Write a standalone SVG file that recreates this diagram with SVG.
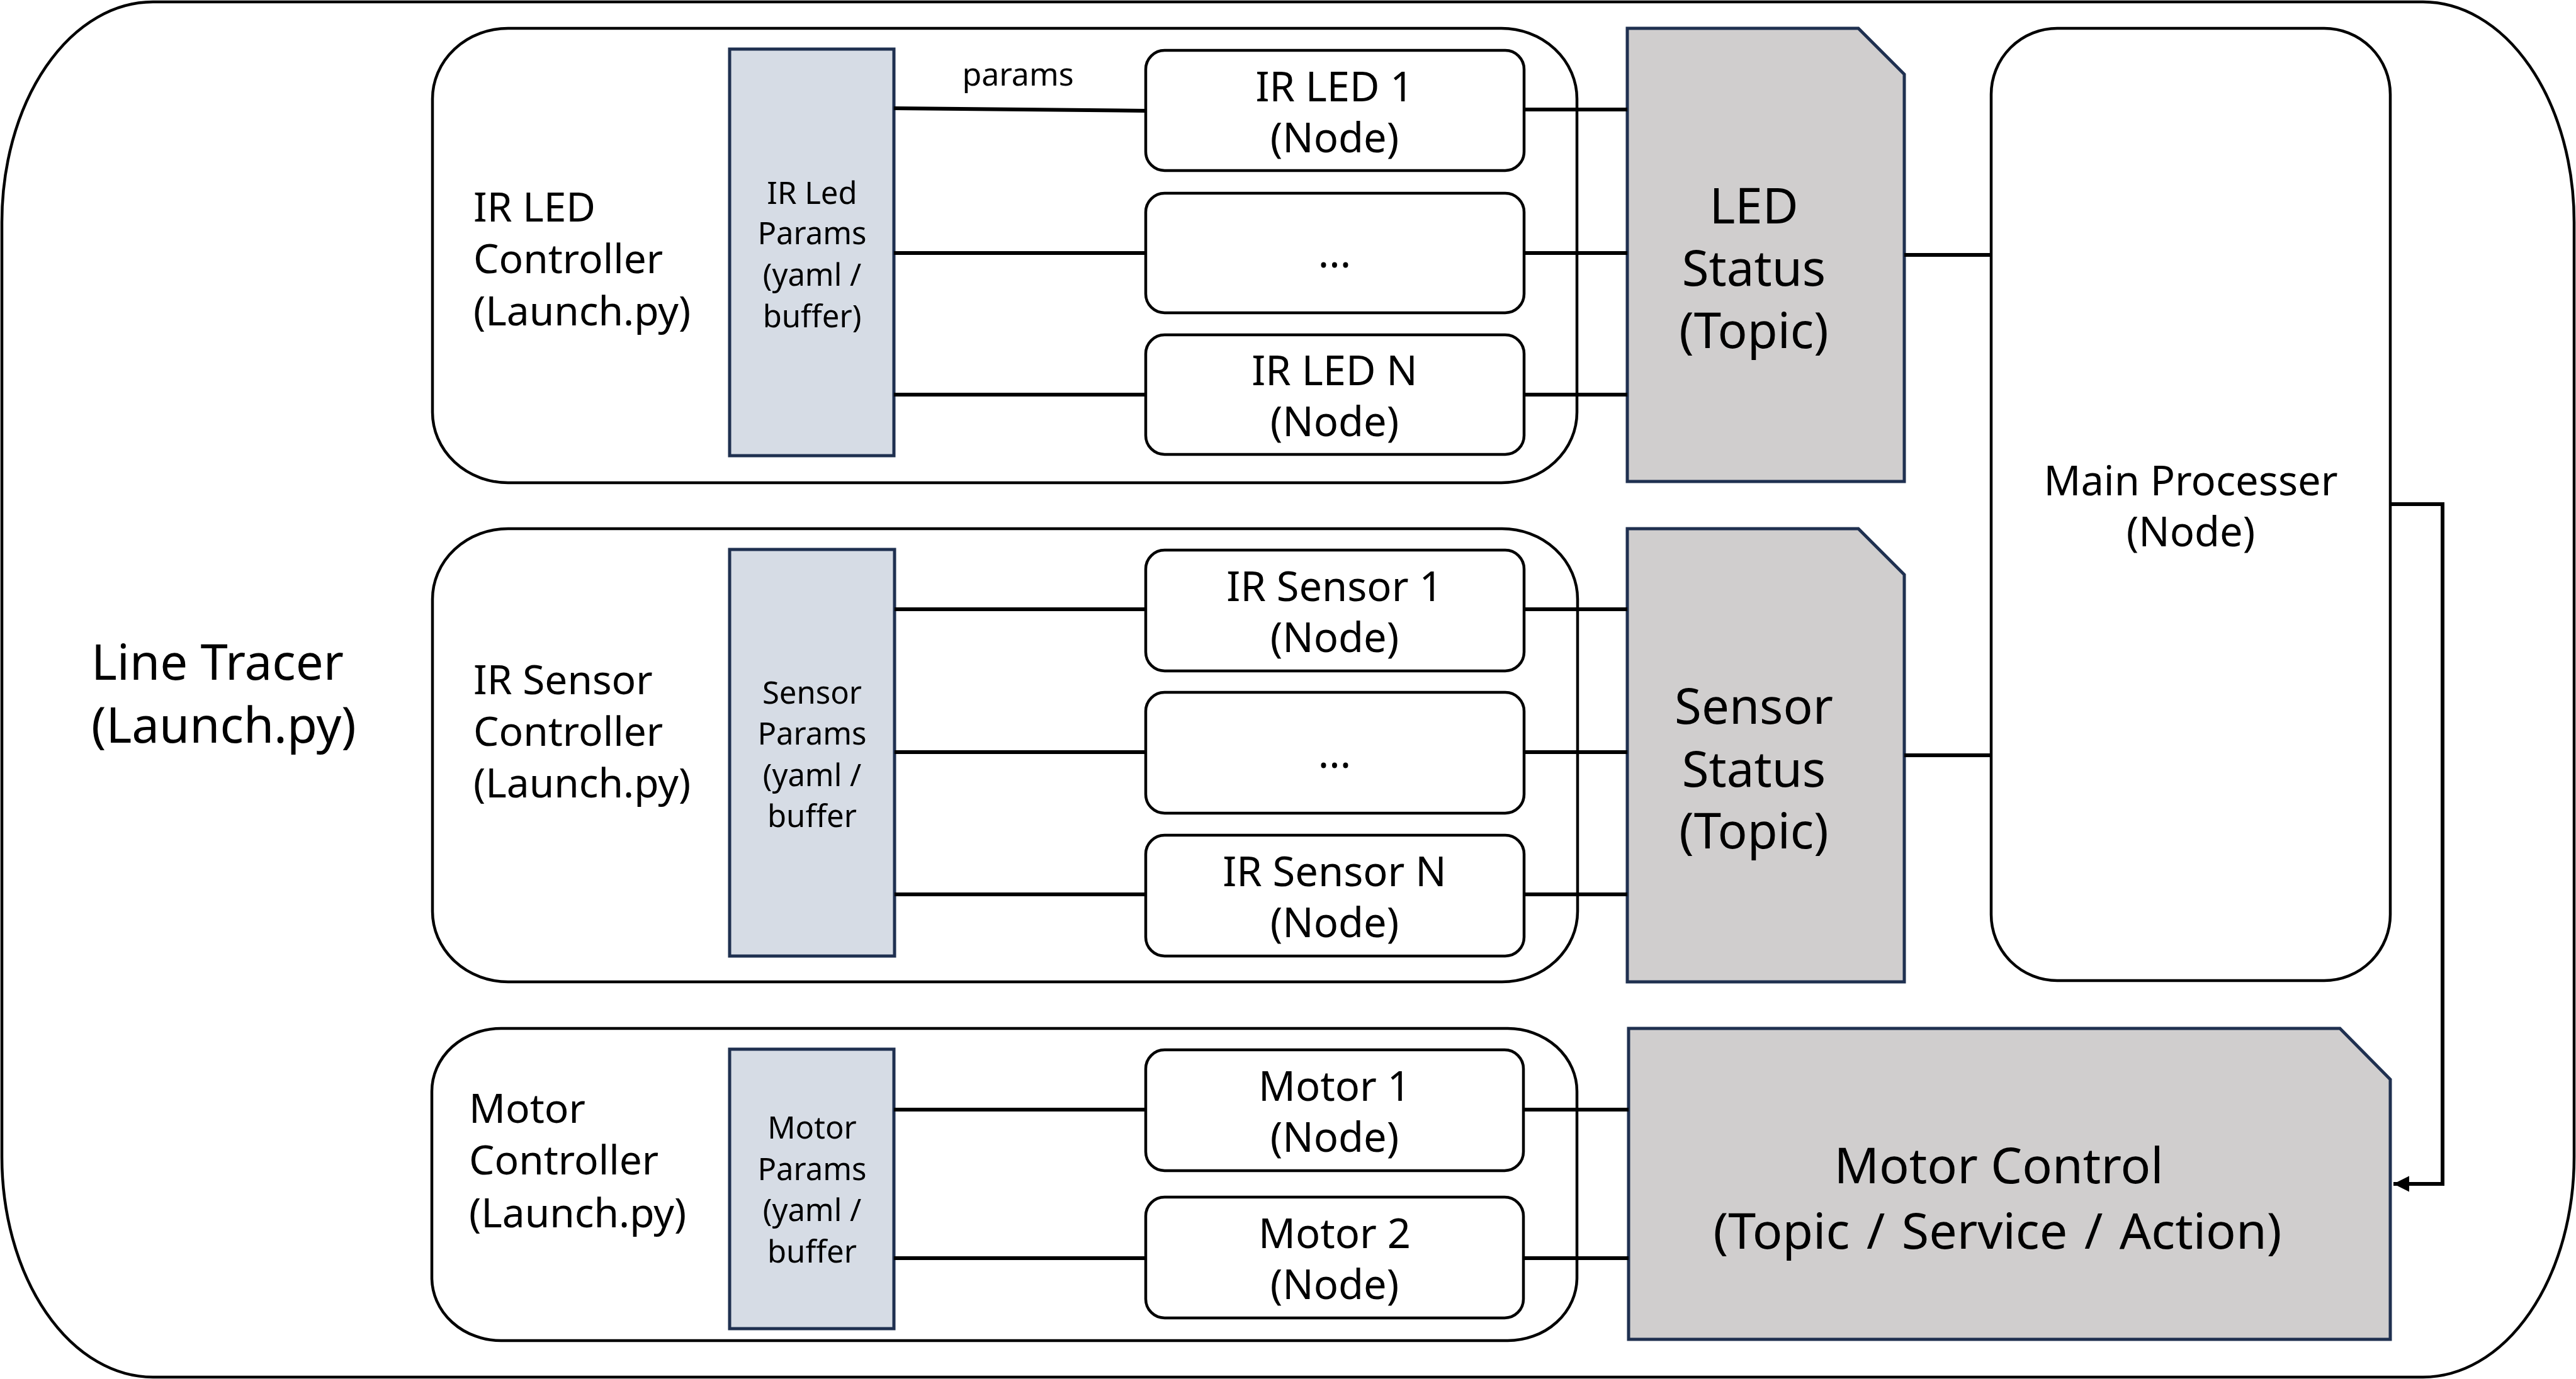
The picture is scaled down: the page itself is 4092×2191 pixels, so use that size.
<svg xmlns="http://www.w3.org/2000/svg" width="4092" height="2191" viewBox="0 0 4092 2191">
<style>
text{font-family:"Noto Sans","Open Sans","DejaVu Sans",sans-serif;fill:#000}
.c{text-anchor:middle}
.frame{fill:#fff;stroke:#000;stroke-width:4.5}
.grp{fill:#fff;stroke:#000;stroke-width:4.5}
.node{fill:#fff;stroke:#000;stroke-width:4.5}
.par{fill:#D6DCE5;stroke:#1F3050;stroke-width:5}
.topic{fill:#D0CECE;stroke:#1F3050;stroke-width:5}
.ln{stroke:#000;stroke-width:6;fill:none}
.t78{font-size:78px}
.t64{font-size:64px}
.t49{font-size:49px}
.t65{font-size:65px}
.t80{font-size:79px}
</style>
<defs>
<marker id="ah" viewBox="0 0 10 10" refX="10" refY="5" markerWidth="4.2" markerHeight="4.2" markerUnits="strokeWidth" orient="auto">
<path d="M0,0 L10,5 L0,10 Z" fill="#000"/>
</marker>
</defs>

<g id="line-tracer">
<rect class="frame" x="3" y="3" width="4086" height="2185" rx="240" ry="350"/>
<text class="t78" x="145" y="1080">Line Tracer</text>
<text class="t78" x="145" y="1180">(Launch.py)</text>
</g>

<g id="ir-led-controller">
<rect class="grp" x="687" y="45" width="1818" height="722" rx="120" ry="112"/>
<text class="t64" x="752" y="352">IR LED</text>
<text class="t64" x="752" y="434">Controller</text>
<text class="t64" x="752" y="517">(Launch.py)</text>
</g>
<g id="ir-sensor-controller">
<rect class="grp" x="687" y="840" width="1819" height="720" rx="120" ry="112"/>
<text class="t64" x="752" y="1103">IR Sensor</text>
<text class="t64" x="752" y="1185">Controller</text>
<text class="t64" x="752" y="1267">(Launch.py)</text>
</g>
<g id="motor-controller">
<rect class="grp" x="686" y="1634" width="1819" height="496" rx="110" ry="100"/>
<text class="t64" x="745" y="1784">Motor</text>
<text class="t64" x="745" y="1866">Controller</text>
<text class="t64" x="745" y="1950">(Launch.py)</text>
</g>

<g id="ir-led-params">
<rect class="par" x="1159" y="78" width="261" height="646"/>
<text class="t49 c" x="1290" y="324">IR Led</text>
<text class="t49 c" x="1290" y="388">Params</text>
<text class="t49 c" x="1290" y="454">(yaml /</text>
<text class="t49 c" x="1290" y="520">buffer)</text>
</g>
<g id="sensor-params">
<rect class="par" x="1159" y="873" width="262" height="646"/>
<text class="t49 c" x="1290" y="1118">Sensor</text>
<text class="t49 c" x="1290" y="1183">Params</text>
<text class="t49 c" x="1290" y="1249">(yaml /</text>
<text class="t49 c" x="1290" y="1314">buffer</text>
</g>
<g id="motor-params">
<rect class="par" x="1159" y="1667" width="261" height="444"/>
<text class="t49 c" x="1290" y="1809">Motor</text>
<text class="t49 c" x="1290" y="1875">Params</text>
<text class="t49 c" x="1290" y="1940">(yaml /</text>
<text class="t49 c" x="1290" y="2006">buffer</text>
</g>

<g id="ir-led-1">
<rect class="node" x="1820" y="80" width="601" height="191" rx="30"/>
<text class="t65 c" x="2120" y="161">IR LED 1</text>
<text class="t65 c" x="2120" y="242">(Node)</text>
</g>
<g id="ir-led-dots">
<rect class="node" x="1820" y="307" width="601" height="190" rx="30"/>
<text class="t65 c" x="2120" y="425">...</text>
</g>
<g id="ir-led-n">
<rect class="node" x="1820" y="532" width="601" height="190" rx="30"/>
<text class="t65 c" x="2120" y="612">IR LED N</text>
<text class="t65 c" x="2120" y="693">(Node)</text>
</g>
<g id="ir-sensor-1">
<rect class="node" x="1820" y="874" width="601" height="192" rx="30"/>
<text class="t65 c" x="2120" y="955">IR Sensor 1</text>
<text class="t65 c" x="2120" y="1036">(Node)</text>
</g>
<g id="ir-sensor-dots">
<rect class="node" x="1820" y="1100" width="601" height="192" rx="30"/>
<text class="t65 c" x="2120" y="1220">...</text>
</g>
<g id="ir-sensor-n">
<rect class="node" x="1820" y="1327" width="601" height="192" rx="30"/>
<text class="t65 c" x="2120" y="1408">IR Sensor N</text>
<text class="t65 c" x="2120" y="1489">(Node)</text>
</g>
<g id="motor-1">
<rect class="node" x="1820" y="1668" width="600" height="192" rx="30"/>
<text class="t65 c" x="2120" y="1749">Motor 1</text>
<text class="t65 c" x="2120" y="1830">(Node)</text>
</g>
<g id="motor-2">
<rect class="node" x="1820" y="1902" width="600" height="192" rx="30"/>
<text class="t65 c" x="2120" y="1983">Motor 2</text>
<text class="t65 c" x="2120" y="2064">(Node)</text>
</g>

<g id="led-status">
<path class="topic" d="M2585,45 H2952 L3025,118 V765 H2585 Z"/>
<text class="t78 c" x="2786" y="355">LED</text>
<text class="t78 c" x="2786" y="454">Status</text>
<text class="t78 c" x="2786" y="553">(Topic)</text>
</g>
<g id="sensor-status">
<path class="topic" d="M2585,840 H2952 L3025,913 V1560 H2585 Z"/>
<text class="t78 c" x="2786" y="1150">Sensor</text>
<text class="t78 c" x="2786" y="1250">Status</text>
<text class="t78 c" x="2786" y="1348">(Topic)</text>
</g>
<g id="motor-control">
<path class="topic" d="M2587,1634 H3717 L3797,1715 V2128 H2587 Z"/>
<text class="t80 c" x="3175" y="1880">Motor Control</text>
<text class="t80 c" x="3173" y="1984" style="word-spacing:6px">(Topic / Service / Action)</text>
</g>
<g id="main-processer">
<rect class="node" x="3163" y="45" width="634" height="1513" rx="105"/>
<text class="t65 c" x="3480" y="787">Main Processer</text>
<text class="t65 c" x="3480" y="868">(Node)</text>
</g>

<g id="connectors">
<line class="ln" x1="1420" y1="172" x2="1820" y2="176"/>
<text class="c" style="font-size:50px" x="1617" y="136">params</text>
<line class="ln" x1="1420" y1="402" x2="1820" y2="402"/>
<line class="ln" x1="1420" y1="627" x2="1820" y2="627"/>
<line class="ln" x1="2421" y1="174" x2="2585" y2="174"/>
<line class="ln" x1="2421" y1="402" x2="2585" y2="402"/>
<line class="ln" x1="2421" y1="627" x2="2585" y2="627"/>
<line class="ln" x1="1421" y1="968" x2="1820" y2="968"/>
<line class="ln" x1="1421" y1="1195" x2="1820" y2="1195"/>
<line class="ln" x1="1421" y1="1421" x2="1820" y2="1421"/>
<line class="ln" x1="2421" y1="968" x2="2585" y2="968"/>
<line class="ln" x1="2421" y1="1195" x2="2585" y2="1195"/>
<line class="ln" x1="2421" y1="1421" x2="2585" y2="1421"/>
<line class="ln" x1="1420" y1="1763" x2="1820" y2="1763"/>
<line class="ln" x1="1420" y1="1999" x2="1820" y2="1999"/>
<line class="ln" x1="2420" y1="1763" x2="2587" y2="1763"/>
<line class="ln" x1="2420" y1="1999" x2="2587" y2="1999"/>
<line class="ln" x1="3025" y1="405" x2="3163" y2="405"/>
<line class="ln" x1="3025" y1="1200" x2="3163" y2="1200"/>
<polyline class="ln" points="3797,801 3880,801 3880,1881 3802,1881" marker-end="url(#ah)"/>
</g>
</svg>
